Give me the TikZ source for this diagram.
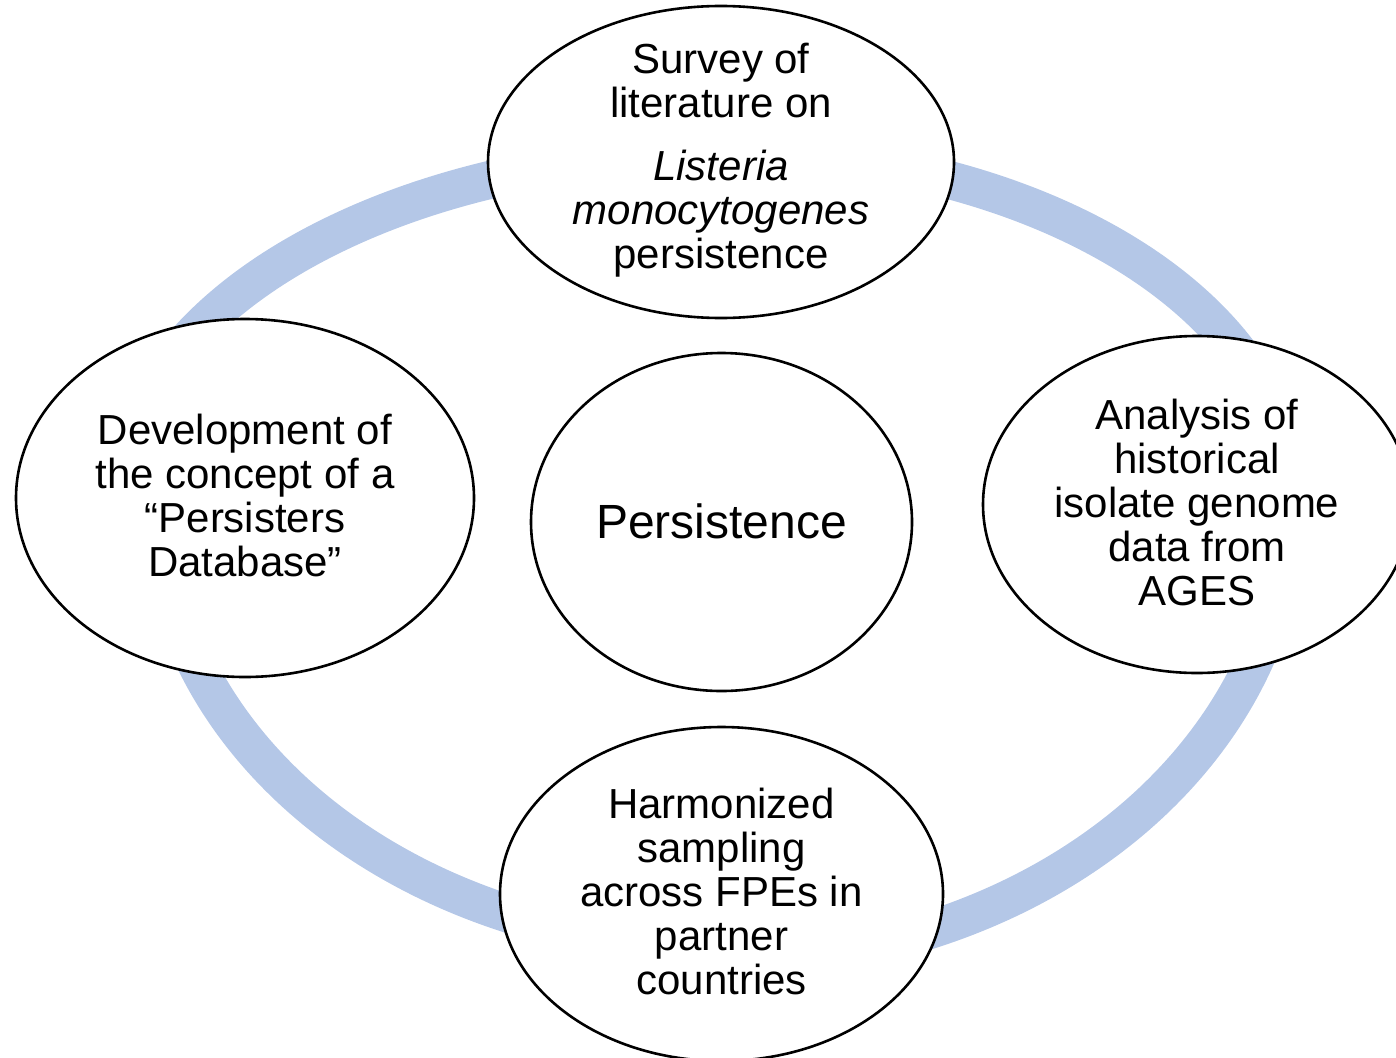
\documentclass[tikz,border=0pt]{standalone}
\usepackage{fontspec}
\setmainfont{Liberation Sans}
\usetikzlibrary{shapes.geometric}
\definecolor{ringblue}{RGB}{180,199,231}
\begin{document}
\begin{tikzpicture}[x=1pt,y=-1pt,
  ring/.style={draw=ringblue, line width=38pt},
  bubble/.style={ellipse, draw=black, fill=white, line width=2.6pt, inner sep=0pt},
  lbl/.style={align=center, font=\fontsize{42}{44}\selectfont, inner sep=0pt},
  biglbl/.style={align=center, font=\fontsize{48}{52}\selectfont, inner sep=0pt}]
\useasboundingbox (0,0) rectangle (1396,1057);
\clip (0,0) rectangle (1396,1057);
% ring (four visible arcs)
\draw[ring] plot[domain=88:172, samples=90] ({722+602*cos(\x)}, {500-347*sin(\x)});
\draw[ring] plot[domain=92:8, samples=90] ({722+570*cos(\x)}, {500-349*sin(\x)});
\draw[ring] plot[domain=-8:-92, samples=90] ({722+568*cos(\x)}, {500-462*sin(\x)});
\draw[ring] plot[domain=-88:-172, samples=90] ({722+565*cos(\x)}, {500-447*sin(\x)});
% nodes
\node[bubble, minimum width=466pt, minimum height=312pt] (top) at (721,162) {};
\node[bubble, minimum width=458pt, minimum height=358pt] (left) at (245,498) {};
\node[bubble, minimum width=381pt, minimum height=338pt] (mid) at (721.5,522) {};
\node[bubble, minimum width=428pt, minimum height=337pt] (right) at (1197,504.5) {};
\node[bubble, minimum width=443pt, minimum height=334pt] (bottom) at (721.5,894) {};
% texts
\node[lbl, yshift=1.5pt] (topT) at (top.center) {Survey of\\literature on\\[19pt]\textit{Listeria}\\\textit{monocytogenes}\\persistence};
\node[lbl, yshift=2.5pt] (leftT) at (left.center) {Development of\\the concept of a\\“Persisters\\Database”};
\node[biglbl, yshift=1pt] (midT) at (mid.center) {Persistence};
\node[lbl, yshift=2.5pt] (rightT) at (right.center) {Analysis of\\historical\\isolate genome\\data from\\AGES};
\node[lbl, yshift=2.5pt] (bottomT) at (bottom.center) {Harmonized\\sampling\\across FPEs in\\partner\\countries};
\end{tikzpicture}
\end{document}
